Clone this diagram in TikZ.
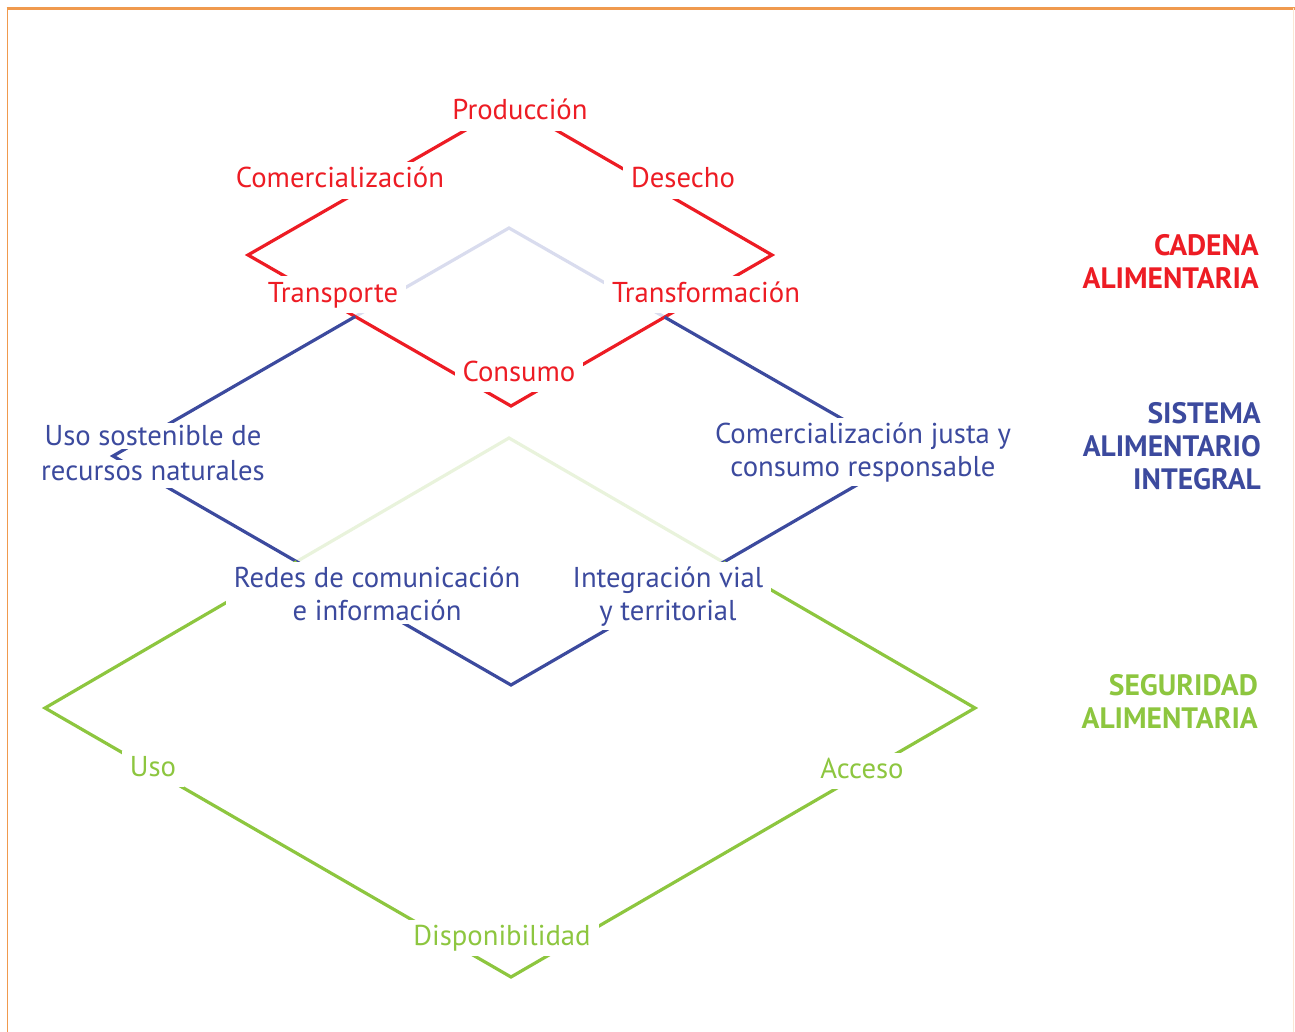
\documentclass[tikz,border=0pt]{standalone}
\usepackage{fontspec}
\setmainfont{PT Sans}

\definecolor{cadena}{HTML}{ED1C24}
\definecolor{sistema}{HTML}{3C4A9E}
\definecolor{seguridad}{HTML}{8DC63F}
\definecolor{sistemapale}{HTML}{D9DCEE}
\definecolor{seguridadpale}{HTML}{E9F3DC}
\definecolor{marco}{HTML}{F09A4E}

\begin{document}
\begin{tikzpicture}[x=1pt, y=-1pt,
    every node/.style={font=\fontsize{28.7}{33}\selectfont},
    lbl/.style={fill=white, inner xsep=8pt, inner ysep=4pt, anchor=base},
    linea/.style={text height=21.5pt, text depth=7pt},
    head/.style={align=right, anchor=east, inner sep=0pt,
      font=\fontsize{29.5}{33}\bfseries\selectfont},
    lado/.style={line width=3.2pt}]
    \useasboundingbox (0,0) rectangle (1295,1032);
    % marco
    \draw[marco, line width=3pt] (6.5,8.5) -- (1295,8.5);
    \draw[marco, line width=1.5pt] (7.5,8) -- (7.5,1032);
    \draw[marco!25, line width=1pt] (1293.5,8) -- (1293.5,1032);

    % vertices
    \coordinate (rt) at (511,104);
    \coordinate (rl) at (248,255);
    \coordinate (rb) at (511,406);
    \coordinate (rr) at (772,255);
    \coordinate (st) at (509,228);
    \coordinate (sl) at (113,456);
    \coordinate (sb) at (511,685);
    \coordinate (sr) at (907,456);
    \coordinate (gt) at (509,438);
    \coordinate (gl) at (45,708);
    \coordinate (gb) at (511,977);
    \coordinate (gr) at (975,708);
    \coordinate (sx1) at (intersection of rl--rb and st--sl);
    \coordinate (sx2) at (intersection of rr--rb and st--sr);
    \coordinate (gx1) at (intersection of sl--sb and gt--gl);
    \coordinate (gx2) at (intersection of sr--sb and gt--gr);

    % diamonds
    \draw[lado, sistemapale] (sx1) -- (st) -- (sx2);
    \draw[lado, seguridadpale] (gx1) -- (gt) -- (gx2);
    \draw[lado, cadena] (rt) -- (rl) -- (rb) -- (rr) -- cycle;
    \draw[lado, sistema] (sx1) -- (sl) -- (sb) -- (sr) -- (sx2);
    \draw[lado, seguridad] (gx1) -- (gl) -- (gb) -- (gr) -- (gx2);

    % cadena alimentaria
    \node[lbl, linea, text=cadena] (produccion) at (520,120) {Producción};
    \node[lbl, linea, text=cadena] (comercializacion) at (340,188) {Comercialización};
    \node[lbl, linea, text=cadena] (desecho) at (683,188) {Desecho};
    \node[lbl, linea, text=cadena] (transporte) at (333,302) {Transporte};
    \node[lbl, linea, text=cadena] (transformacion) at (706,302) {Transformación};
    \node[lbl, linea, text=cadena] (consumo) at (519,381) {Consumo};

    % sistema alimentario integral
    \node[lbl, text=sistema, inner ysep=0pt, text height=22pt, text depth=4pt]
      (sostenible1) at (153,445) {Uso sostenible de};
    \node[lbl, text=sistema, inner ysep=0pt, text height=20pt, text depth=8pt]
      (sostenible2) at (153,480) {recursos naturales};
    \node[lbl, text=sistema, align=center] (justa) at (863,476)
      {Comercialización justa y\\consumo responsable};
    \node[lbl, text=sistema, align=center] (redes) at (377,620)
      {Redes de comunicación\\e información};
    \node[lbl, text=sistema, align=center] (vial) at (668,620)
      {Integración vial\\y territorial};

    % seguridad alimentaria
    \node[lbl, linea, text=seguridad] (uso) at (153,776) {Uso};
    \node[lbl, linea, text=seguridad] (acceso) at (862,778) {Acceso};
    \node[lbl, linea, text=seguridad] (disponibilidad) at (502,945) {Disponibilidad};

    % niveles
    \node[head, text=cadena] (cadenaal) at (1259,262) {CADENA\\ALIMENTARIA};
    \node[head, text=sistema] (sistemaal) at (1261,446) {SISTEMA\\ALIMENTARIO\\INTEGRAL};
    \node[head, text=seguridad] (seguridadal) at (1258,702) {SEGURIDAD\\ALIMENTARIA};
\end{tikzpicture}
\end{document}
